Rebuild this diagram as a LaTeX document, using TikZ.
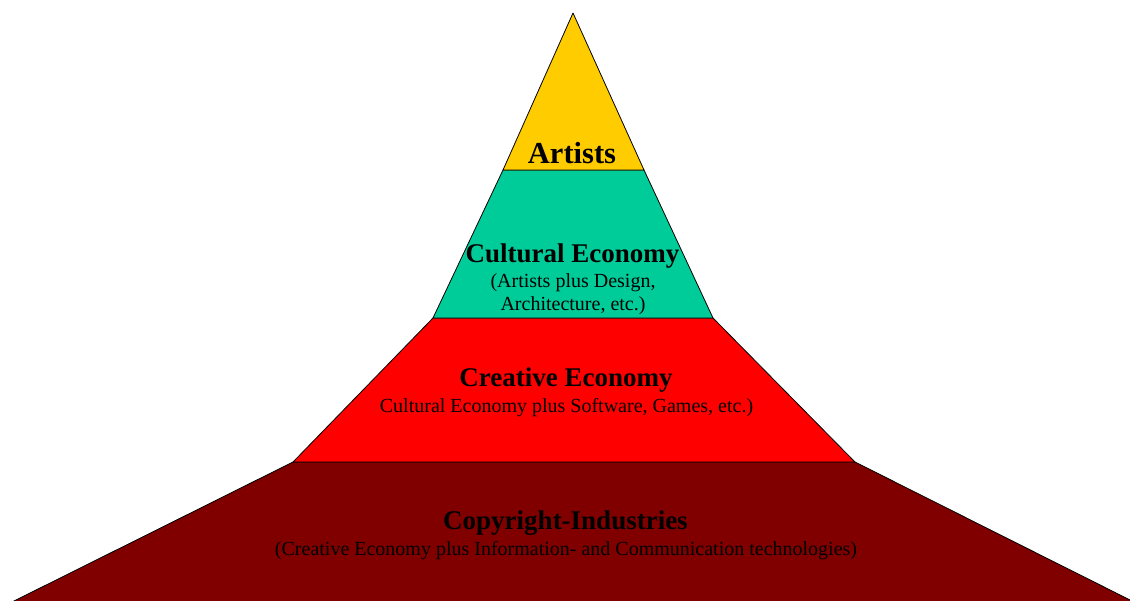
\documentclass[tikz,border=0pt]{standalone}
\usepackage{fontspec}
\setmainfont{Liberation Serif}
\usetikzlibrary{positioning}
\definecolor{artistgold}{HTML}{FFCC00}
\definecolor{culturegreen}{HTML}{00CC99}
\definecolor{creativered}{HTML}{FF0000}
\definecolor{copyrightred}{HTML}{800000}
\tikzset{
  layer/.style={draw=black,line width=0.8pt,line join=round},
  head/.style={font=\fontsize{27}{30}\selectfont\bfseries,inner sep=0pt,anchor=base},
  sub/.style={font=\fontsize{20}{23}\selectfont,inner sep=0pt,align=center,anchor=base}
}
\begin{document}
\begin{tikzpicture}[x=1pt,y=-1pt]
\useasboundingbox (0,0) rectangle (1130,600);
\fill[copyrightred] (293,462) -- (855,462) -- (1136,603) -- (10,603) -- cycle;
\draw[layer] (10,603) -- (293,462) -- (855,462) -- (1136,603);
\draw[layer,fill=creativered] (433,318) -- (713,318) -- (855,462) -- (293,462) -- cycle;
\draw[layer,fill=culturegreen] (503,170) -- (644,170) -- (713,318) -- (433,318) -- cycle;
\draw[layer,fill=artistgold] (573,13) -- (644,170) -- (503,170) -- cycle;
\node[head,font=\fontsize{30.5}{33}\selectfont\bfseries] (artists) at (572,163) {Artists};
\node[head] (cultural) at (572.5,262) {Cultural Economy};
\node[sub] (culturalsub) at (573,310) {(Artists plus Design,\\Architecture, etc.)};
\node[head] (creative) at (566,386) {Creative Economy};
\node[sub] (creativesub) at (566.5,412) {Cultural Economy plus Software, Games, etc.)};
\node[head] (copyright) at (565.5,529) {Copyright-Industries};
\node[sub] (copyrightsub) at (566,555) {(Creative Economy plus Information- and Communication technologies)};
\end{tikzpicture}
\end{document}
